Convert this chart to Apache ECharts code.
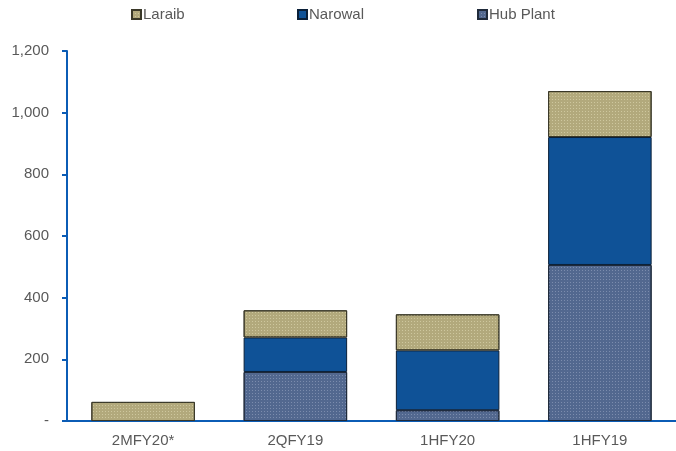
<!DOCTYPE html>
<html><head><meta charset="utf-8">
<script src="https://cdn.jsdelivr.net/npm/echarts@6/dist/echarts.min.js"></script>
<style>html,body{margin:0;padding:0;background:#fff}#c{width:676px;height:451px}</style>
</head><body><div id="c"></div>
<script>
const categories = ['2MFY20*', '2QFY19', '1HFY20', '1HFY19'];
const hubPlant = [null, 159, 35, 506];
const narowal = [null, 112, 194, 415];
const laraib = [62, 88, 117, 149];
const yTicks = [0, 200, 400, 600, 800, 1000, 1200];

const chart = echarts.init(document.getElementById('c'));
const font = 'Liberation Sans, Arial, sans-serif';
const txt = '#595959';
const axisBlue = '#0b5cb5';
const colLaraib = '#b2a97c', colNarowal = '#0f5297', colHub = '#52688f';
const decal = (c) => ({symbol: 'rect', symbolSize: 1, dashArrayX: [1, 2], dashArrayY: [1, 2], color: c});
function legend(name, left) {
  return {data: [name], left: left, top: 2, itemWidth: 9, itemHeight: 9, itemGap: 3,
    icon: 'rect', textStyle: {fontFamily: font, fontSize: 15, color: txt, padding: [0, 0, 0, -3]}};
}
chart.setOption({
  animation: false,
  legend: [legend('Laraib', 126), legend('Narowal', 292), legend('Hub Plant', 472)],
  grid: {left: 67, top: 51, width: 613, bottom: 30, containLabel: false},
  xAxis: {type: 'category', data: categories,
    axisLine: {lineStyle: {color: axisBlue, width: 2}},
    axisTick: {show: false},
    axisLabel: {fontFamily: font, fontSize: 15, color: txt, margin: 12}},
  yAxis: {type: 'value', min: 0, max: 1200, interval: 200,
    axisLine: {show: true, lineStyle: {color: axisBlue, width: 2}},
    axisTick: {show: true, length: 5, lineStyle: {color: axisBlue, width: 2}},
    splitLine: {show: false},
    axisLabel: {fontFamily: font, fontSize: 15, color: txt, margin: 18,
      formatter: v => yTicks.includes(v) ? (v === 0 ? '-' : v.toLocaleString('en-US')) : ''}},
  series: [
    {name: 'Hub Plant', type: 'bar', stack: 's', data: hubPlant, barWidth: '68%',
      itemStyle: {color: colHub, borderColor: '#1f2a3a', borderWidth: 1, decal: decal('rgba(200,210,230,0.35)')}},
    {name: 'Narowal', type: 'bar', stack: 's', data: narowal,
      itemStyle: {color: colNarowal, borderColor: '#0a1f38', borderWidth: 1}},
    {name: 'Laraib', type: 'bar', stack: 's', data: laraib,
      itemStyle: {color: colLaraib, borderColor: '#3a3828', borderWidth: 1, decal: decal('rgba(240,235,200,0.45)')}}
  ]
});
</script></body></html>
